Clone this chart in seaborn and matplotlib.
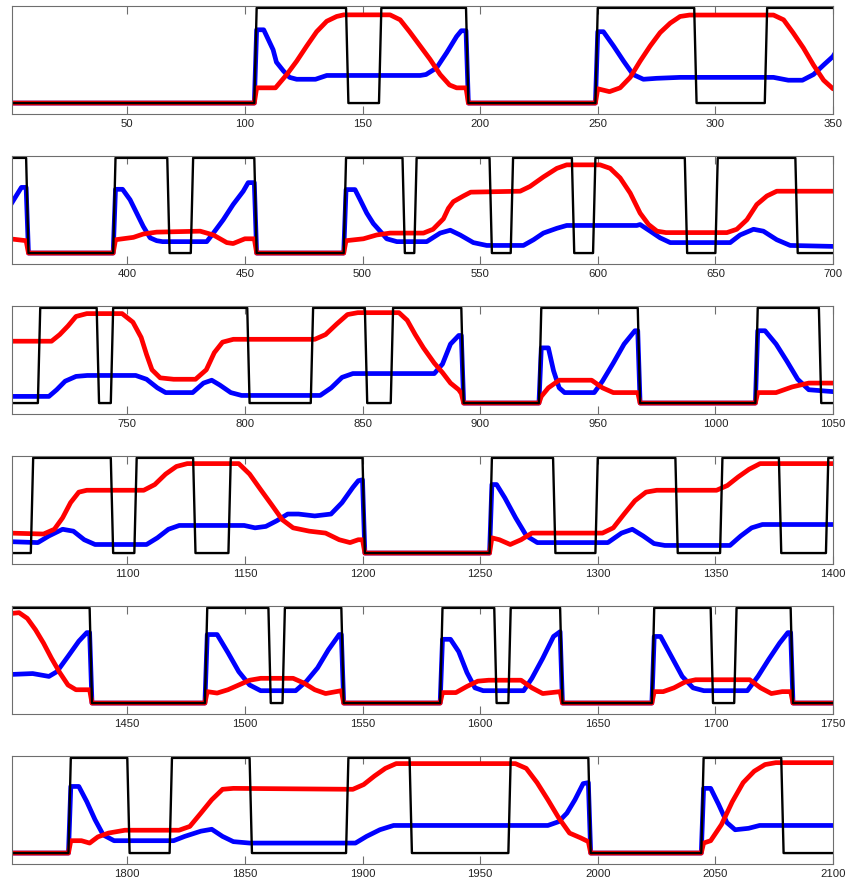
import numpy as np
import pandas as pd
import matplotlib
matplotlib.use("Agg")
import matplotlib.pyplot as plt
import seaborn as sns

# ---- binary control signal: first sample of each new run (starts at 0) ----
n_samples = 2100
switch_samples = [105, 144, 158, 195, 250, 292, 322, 358, 395, 418, 428, 455,
                  493, 518, 523, 555, 564, 590, 599, 638, 651, 685, 713, 738,
                  744, 802, 829, 852, 863, 893, 926, 968, 1018, 1045, 1060,
                  1094, 1104, 1129, 1144, 1201, 1255, 1282, 1300, 1334, 1353,
                  1378, 1398, 1435, 1484, 1511, 1517, 1542, 1584, 1607, 1613,
                  1635, 1674, 1699, 1709, 1733, 1776, 1801, 1819, 1853, 1894,
                  1921, 1963, 1997, 2045, 2079]

# ---- red trace (sample, value) ----
red_x = [1, 104, 105, 113, 117.8, 122, 126.3, 130.5, 134.8, 139, 142, 161.7,
         166, 170, 174.5, 178.7, 183, 187, 190, 194, 195, 249, 250, 255, 259.5,
         263.8, 268, 272.3, 276.5, 280.8, 285, 289, 324.7, 329, 333, 337.4,
         341.7, 346, 350,
         357, 358, 394, 395, 402.6, 406.8, 412.5, 431, 436.6, 442.3, 445, 450,
         454, 455, 492, 493, 500.4, 506, 511.7, 525.9, 530, 534.4, 536.5,
         538.6, 542.9, 546, 567, 571.2, 576.9, 582.6, 586.8, 601, 605.3,
         609.5, 613.8, 618, 621.6, 625.2, 629, 654.9, 659.1, 663.4, 667.6,
         671.9, 676.1, 680, 700,
         717.8, 721.3, 724.8, 728.2, 732.8, 747.8, 752.4, 755.9, 758.2, 760.5,
         764, 769.7, 779, 783.6, 787, 790.5, 795.1, 829.7, 834.3, 839, 843.6,
         848, 865.5, 869, 872.4, 875.9, 880.5, 884, 887.4, 890.9, 892, 893,
         925, 926, 929, 933.6, 947.4, 952, 956.6, 967, 968, 1017, 1018, 1025.8,
         1032.7, 1039.7, 1050,
         1064.4, 1069, 1072.5, 1075.9, 1079.4, 1082.8, 1107, 1111.7, 1116.3,
         1120.9, 1125.5, 1147.4, 1152, 1156.6, 1161.3, 1165.9, 1170.5, 1177.4,
         1184.3, 1190.1, 1194.7, 1198.2, 1200, 1201, 1254, 1255, 1258.2,
         1262.8, 1267.4, 1272, 1302, 1306.6, 1311.2, 1315.8, 1320.5, 1325.1,
         1350.5, 1355.1, 1359.7, 1364.3, 1369, 1400,
         1404, 1407.5, 1411, 1414.4, 1417.8, 1421.3, 1424.8, 1428.2, 1434,
         1435, 1483, 1484, 1488.2, 1492.8, 1497.4, 1502, 1506.7, 1520.5,
         1525.1, 1529.7, 1534.3, 1541, 1542, 1583, 1584, 1589.7, 1594.4, 1599,
         1603.6, 1617.4, 1622, 1626.6, 1634, 1635, 1673, 1674, 1677.8, 1682.4,
         1687, 1691.6, 1714.6, 1719.2, 1723.8, 1728.4, 1732, 1733, 1775,
         1776, 1780.5, 1784, 1787.5, 1792, 1799, 1822, 1826.6, 1831.3, 1835.9,
         1840.5, 1845.1, 1895.9, 1900.5, 1905.1, 1909.7, 1914.3, 1965, 1969.6,
         1974.2, 1978.8, 1983.4, 1988, 1992.7, 1996, 1997, 2044, 2045, 2048,
         2052.6, 2057.2, 2061.8, 2066.5, 2071.1, 2075.7, 2100]
red_y = [0, 0, 0.16, 0.16, 0.30, 0.44, 0.60, 0.75, 0.86, 0.91, 0.927, 0.927,
         0.875, 0.75, 0.60, 0.46, 0.30, 0.19, 0.16, 0.16, 0, 0, 0.15, 0.12, 0.16,
         0.27, 0.44, 0.60, 0.74, 0.84, 0.91, 0.925, 0.925, 0.875, 0.74, 0.58,
         0.40, 0.24, 0.15,
         0.13, 0, 0, 0.14, 0.165, 0.20, 0.22, 0.23, 0.19, 0.11, 0.10, 0.15,
         0.15, 0, 0, 0.13, 0.15, 0.19, 0.21, 0.21, 0.25, 0.36, 0.47,
         0.54, 0.60, 0.64, 0.65, 0.70, 0.80, 0.89, 0.927, 0.927, 0.89,
         0.79, 0.63, 0.42, 0.30, 0.23, 0.215, 0.215, 0.25, 0.35, 0.51,
         0.60, 0.65, 0.65, 0.65,
         0.65, 0.72, 0.81, 0.91, 0.94, 0.94, 0.85, 0.69, 0.51, 0.35,
         0.265, 0.25, 0.25, 0.35, 0.53, 0.64, 0.67, 0.67, 0.72, 0.83, 0.93,
         0.95, 0.95, 0.87, 0.72, 0.58, 0.42, 0.32, 0.21, 0.14, 0.10, 0,
         0, 0.07, 0.16, 0.24, 0.24, 0.16, 0.11, 0.11, 0, 0, 0.11, 0.11,
         0.17, 0.21, 0.21,
         0.20, 0.25, 0.37, 0.53, 0.64, 0.66, 0.66, 0.72, 0.83,
         0.91, 0.94, 0.94, 0.83, 0.67, 0.51, 0.35, 0.265, 0.23,
         0.21, 0.14, 0.11, 0.14, 0.14, 0, 0, 0.16, 0.14,
         0.09, 0.14, 0.21, 0.21, 0.265, 0.41, 0.55, 0.64, 0.66,
         0.66, 0.71, 0.80, 0.88, 0.94, 0.94,
         0.95, 0.89, 0.77, 0.63, 0.47, 0.32, 0.19, 0.14, 0.14,
         0, 0, 0.12, 0.105, 0.14, 0.19, 0.24, 0.26, 0.26,
         0.21, 0.14, 0.10, 0.13, 0, 0, 0.11, 0.11, 0.175, 0.23,
         0.24, 0.24, 0.16, 0.10, 0.12, 0, 0, 0.12, 0.12, 0.16,
         0.22, 0.245, 0.245, 0.16, 0.10, 0.12, 0.12, 0, 0,
         0.13, 0.13, 0.105, 0.17, 0.21, 0.24, 0.24, 0.28, 0.42, 0.56,
         0.67, 0.68, 0.67, 0.72, 0.81, 0.89, 0.94, 0.94, 0.89,
         0.74, 0.56, 0.37, 0.21, 0.16, 0.12, 0, 0, 0.105, 0.13,
         0.30, 0.54, 0.74, 0.86, 0.93, 0.95, 0.95]

# ---- blue trace (sample, value) ----
blue_x = [1, 104, 105, 108, 112, 113.4, 116.3, 119, 122, 130, 134.8, 174.5,
          177, 181.5, 185.8, 190, 192, 194, 195, 249, 250, 252.4, 256.7, 261,
          265, 269.4, 275, 285, 324.7, 331, 337, 341.7, 346, 350,
          355, 357, 358, 394, 395, 398, 401.2, 404, 406.8, 409.7, 412.5, 415,
          433.8, 436.6, 440.8, 445, 449.3, 451.4, 454, 455, 492, 493, 496.8,
          499, 501.8, 504.6, 507.5, 510.3, 514.6, 527.3, 533, 537.3, 541.5,
          547.1, 552.8, 568.4, 572.7, 576.9, 582.6, 586.8, 616.6, 618, 622.3,
          626.5, 630.8, 656.3, 660.5, 666.2, 670.4, 676.1, 681.8, 700,
          716.7, 720, 723.6, 728.2, 733, 753.6, 758.2, 762.8, 766.3, 777.8,
          782.4, 785.9, 789.3, 794, 798.6, 832, 836.7, 841.3, 845.9, 880.5,
          884, 887.4, 890.9, 892, 893, 925, 926, 929, 931.2, 933.6, 935.9,
          948.5, 952, 956.6, 961.2, 965.8, 967, 968, 1017, 1018, 1021.1,
          1025.8, 1030.4, 1035, 1039.7, 1050,
          1062, 1066.7, 1072.5, 1077.1, 1081.7, 1086.3, 1108.2, 1112.8, 1117.5,
          1122.1, 1149.7, 1154.3, 1158.9, 1163.6, 1168.2, 1172.8, 1179.7,
          1186.6, 1191.3, 1195.9, 1198.2, 1200, 1201, 1254, 1255, 1257, 1260.5,
          1265.1, 1269.7, 1274.3, 1304.3, 1310.1, 1314.7, 1319.3, 1323.9,
          1328.5, 1356.2, 1360.8, 1365.4, 1370, 1400,
          1409.8, 1416.7, 1420.1, 1424.8, 1429.4, 1432.8, 1434, 1435, 1483,
          1484, 1488.2, 1492.8, 1497.4, 1502, 1506.7, 1521.6, 1526.2, 1530.9,
          1535.5, 1540.1, 1541, 1542, 1583, 1584, 1587.4, 1590.9, 1594.4,
          1597.8, 1601.3, 1618.5, 1622, 1626.6, 1631.2, 1634, 1635, 1673, 1674,
          1676.7, 1681.3, 1685.9, 1690.5, 1695.1, 1713.6, 1718.1, 1722.7,
          1727.3, 1730.8, 1732, 1733, 1775,
          1776, 1779.4, 1782.8, 1786.3, 1789.8, 1794.4, 1819.7, 1824.4, 1831.3,
          1835.9, 1840.5, 1845.1, 1852, 1897, 1901.7, 1907.4, 1913.2, 1974.2,
          1978.8, 1983.4, 1986.9, 1990.3, 1993.8, 1996, 1997, 2044, 2045, 2048,
          2051.4, 2054.9, 2058.4, 2064.1, 2068.8, 2100]
blue_y = [0, 0, 0.77, 0.77, 0.56, 0.43, 0.34, 0.27, 0.25, 0.25, 0.29, 0.29,
          0.30, 0.37, 0.53, 0.70, 0.76, 0.76, 0, 0, 0.75, 0.75, 0.60, 0.44,
          0.30, 0.25, 0.26, 0.27, 0.27, 0.24, 0.24, 0.30, 0.40, 0.49,
          0.69, 0.69, 0, 0, 0.67, 0.67, 0.56, 0.42, 0.28, 0.16, 0.13, 0.12,
          0.12, 0.21, 0.35, 0.51, 0.65, 0.74, 0.74, 0, 0, 0.667, 0.667,
          0.56, 0.42, 0.31, 0.23, 0.15, 0.12, 0.12, 0.21, 0.24, 0.19,
          0.11, 0.08, 0.08, 0.14, 0.21, 0.26, 0.29, 0.29, 0.30, 0.23,
          0.16, 0.11, 0.11, 0.19, 0.25, 0.23, 0.14, 0.08, 0.07,
          0.07, 0.14, 0.23, 0.28, 0.29, 0.29, 0.25, 0.16, 0.11, 0.11,
          0.21, 0.24, 0.19, 0.11, 0.08, 0.08, 0.16, 0.27, 0.31, 0.31,
          0.41, 0.62, 0.71, 0.71, 0, 0, 0.58, 0.58, 0.34, 0.16, 0.11,
          0.11, 0.23, 0.42, 0.62, 0.76, 0.76, 0, 0, 0.76, 0.76,
          0.62, 0.44, 0.25, 0.14, 0.12,
          0.11, 0.18, 0.25, 0.23, 0.14, 0.09, 0.09, 0.16, 0.25,
          0.29, 0.29, 0.265, 0.28, 0.34, 0.41, 0.41, 0.39,
          0.41, 0.53, 0.69, 0.76, 0.77, 0, 0, 0.72, 0.72, 0.58,
          0.37, 0.18, 0.11, 0.11, 0.21, 0.25, 0.18, 0.10,
          0.08, 0.08, 0.18, 0.265, 0.30, 0.30,
          0.31, 0.28, 0.33, 0.49, 0.65, 0.74, 0.74, 0, 0,
          0.72, 0.72, 0.53, 0.33, 0.19, 0.13, 0.13, 0.23, 0.37,
          0.56, 0.72, 0.72, 0, 0, 0.67, 0.67, 0.54, 0.32,
          0.16, 0.13, 0.13, 0.26, 0.47, 0.70, 0.75, 0, 0, 0.70,
          0.70, 0.49, 0.28, 0.16, 0.13, 0.13, 0.28, 0.46,
          0.63, 0.74, 0.74, 0, 0,
          0.70, 0.70, 0.54, 0.35, 0.19, 0.13, 0.13, 0.175, 0.23,
          0.25, 0.175, 0.12, 0.105, 0.105, 0.175, 0.245, 0.29, 0.29,
          0.29, 0.33, 0.42, 0.56, 0.73, 0.74, 0, 0, 0.68, 0.68,
          0.51, 0.32, 0.245, 0.26, 0.29, 0.29]

# ---- x-axis tick values per row ----
row_ticks = [[50, 100, 150, 200, 250, 300, 350],
             [400, 450, 500, 550, 600, 650, 700],
             [750, 800, 850, 900, 950, 1000, 1050],
             [1100, 1150, 1200, 1250, 1300, 1350, 1400],
             [1450, 1500, 1550, 1600, 1650, 1700, 1750],
             [1800, 1850, 1900, 1950, 2000, 2050, 2100]]

# build the square wave from its run boundaries
bounds = [1] + switch_samples + [n_samples + 1]
levels = [i % 2 for i in range(len(bounds) - 1)]
run_lengths = np.diff(bounds)
control = np.repeat(levels, run_lengths).astype(float)
samples = np.arange(1, n_samples + 1)

df_ctrl = pd.DataFrame({"sample": samples, "value": control})
df_red = pd.DataFrame({"sample": red_x, "value": red_y})
df_blue = pd.DataFrame({"sample": blue_x, "value": blue_y})

sns.set_style("white")
plt.rcParams["font.family"] = ["Liberation Sans", "DejaVu Sans"]

W, H = 849, 887
fig = plt.figure(figsize=(W / 100, H / 100), dpi=100)

frame_color = "#6e6e6e"
for i, ticks in enumerate(row_ticks):
    top_px = 7 + 150 * i
    bot_px = 115 + 150 * i
    ax = fig.add_axes([12 / W, 1 - bot_px / H, 821 / W, (bot_px - top_px) / H])

    sns.lineplot(data=df_blue, x="sample", y="value", ax=ax, color="#0000ff",
                 linewidth=3.4, estimator=None, sort=False, legend=False)
    sns.lineplot(data=df_red, x="sample", y="value", ax=ax, color="#ff0000",
                 linewidth=3.4, estimator=None, sort=False, legend=False)
    sns.lineplot(data=df_ctrl, x="sample", y="value", ax=ax, color="black",
                 linewidth=1.7, estimator=None, sort=False, legend=False)

    ax.set_xlim(1 + 350 * i, 350 * (i + 1))
    ax.set_ylim(-0.115, 1.02)
    ax.set_xticks(ticks)
    ax.set_xticklabels([str(t) for t in ticks])
    ax.set_yticks([])
    ax.set_xlabel("")
    ax.set_ylabel("")
    ax.tick_params(axis="x", direction="in", length=5.8, width=0.8,
                   color=frame_color, top=True, bottom=True,
                   labelsize=8.2, labelcolor="#222222", pad=3)
    for sp in ax.spines.values():
        sp.set_visible(True)
        sp.set_color(frame_color)
        sp.set_linewidth(0.8)

fig.savefig("out.png", dpi=100)
